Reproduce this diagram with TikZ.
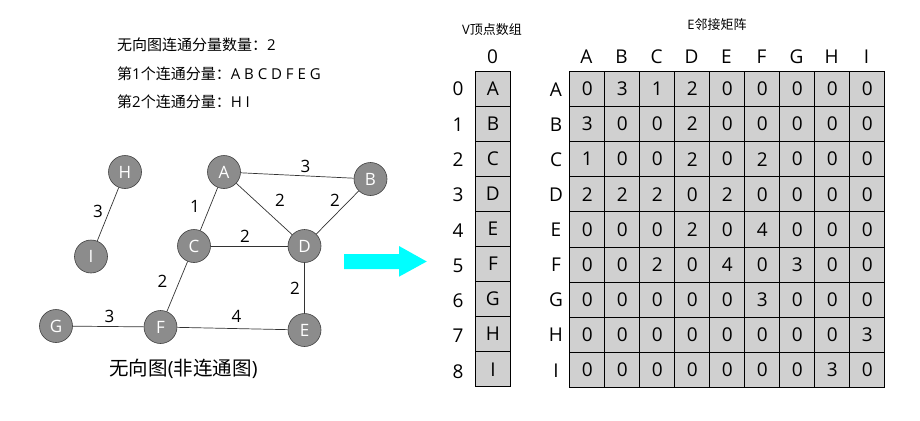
\documentclass[tikz,border=0pt]{standalone}
\usepackage{fontspec}
\setmainfont{Open Sans}
\newfontfamily\cjk{Noto Sans CJK SC}
\usetikzlibrary{calc}
\definecolor{nodegray}{HTML}{8C8C8C}
\definecolor{cellgray}{HTML}{D0D0D0}
\definecolor{arrowcyan}{HTML}{00FFFF}
\tikzset{
  vtx/.style={circle,draw=black!75,line width=0.6pt,fill=nodegray,minimum size=33pt,inner sep=0pt,text=white,font=\fontsize{17}{17}\selectfont},
  edge/.style={draw=black!80,line width=0.7pt},
  elab/.style={font=\fontsize{17}{17}\selectfont,inner sep=0pt},
  info/.style={font=\fontsize{15}{15}\selectfont,anchor=west,inner sep=0pt},
  cell/.style={draw=black,line width=0.8pt,fill=cellgray,minimum width=35pt,minimum height=35.1pt,inner sep=0pt,anchor=north west,font=\fontsize{19}{19}\selectfont},
  idx/.style={font=\fontsize{19}{19}\selectfont,inner sep=0pt},
  ttl/.style={font=\fontsize{13}{13}\selectfont,inner sep=0pt}
}
\begin{document}
\begin{tikzpicture}[x=1pt,y=-1pt]
\useasboundingbox (0,0) rectangle (920,420);
% info text
\node[info] (t1) at (117,45) {{\cjk 无向图连通分量数量：}2};
\node[info] (t2) at (117,73.5) {{\cjk 第}1{\cjk 个连通分量：}A B C D F E G};
\node[info] (t3) at (117,101.5) {{\cjk 第}2{\cjk 个连通分量：}H I};
% graph
\node[vtx] (H) at (125,172) {H};
\node[vtx] (A) at (224,172) {A};
\node[vtx] (B) at (370.5,179) {B};
\node[vtx] (I) at (91,256.5) {I};
\node[vtx] (C) at (194,246) {C};
\node[vtx] (D) at (304.5,246) {D};
\node[vtx] (G) at (56,326) {G};
\node[vtx] (F) at (160.5,327) {F};
\node[vtx] (E) at (304.5,330) {E};
\path[edge] (H) -- (I);
\path[edge] (A) -- (B);
\path[edge] (A) -- (C);
\path[edge] (A) -- (D);
\path[edge] (B) -- (D);
\path[edge] (C) -- (D);
\path[edge] (C) -- (F);
\path[edge] (D) -- (E);
\path[edge] (G) -- (F);
\path[edge] (F) -- (E);
\node[elab] (lHI) at (98,211.5) {3};
\node[elab] (lAB) at (305.5,166) {3};
\node[elab] (lAC) at (195,206.5) {1};
\node[elab] (lAD) at (280,200) {2};
\node[elab] (lBD) at (335,200) {2};
\node[elab] (lCD) at (245,236) {2};
\node[elab] (lCF) at (162.5,281.5) {2};
\node[elab] (lDE) at (295,288) {2};
\node[elab] (lGF) at (109.5,316) {3};
\node[elab] (lFE) at (236.5,316) {4};
\node[font=\fontsize{19.5}{19.5}\selectfont,inner sep=0pt] (cap) at (183.5,369) {{\cjk 无向图}({\cjk 非连通图})};
% arrow
\fill[arrowcyan] (344,254) -- (399,254) -- (399,246) -- (426.7,261.5) -- (399,276.7) -- (399,269) -- (344,269) -- cycle;
% vertex array
\node[ttl] (vt) at (492,30) {V{\cjk 顶点数组}};
\node[idx] (vh) at (492.5,57) {0};
\foreach \n [count=\i from 0] in {A,B,C,D,E,F,G,H,I} {
  \node[cell] (v\i) at (475,70.5+35.1*\i) {\n};
  \node[idx] (vi\i) at (458,89+35.3*\i) {\i};
}
% matrix
\node[ttl] (et) at (717,25) {E{\cjk 邻接矩阵}};
\foreach \n [count=\j from 0] in {A,B,C,D,E,F,G,H,I} {
  \node[idx] (ch\j) at (586.5+35*\j,57) {\n};
  \node[idx] (rh\j) at (556,89.5+35.1*\j) {\n};
}
\foreach \row [count=\i from 0] in {
  {0,3,1,2,0,0,0,0,0},
  {3,0,0,2,0,0,0,0,0},
  {1,0,0,2,0,2,0,0,0},
  {2,2,2,0,2,0,0,0,0},
  {0,0,0,2,0,4,0,0,0},
  {0,0,2,0,4,0,3,0,0},
  {0,0,0,0,0,3,0,0,0},
  {0,0,0,0,0,0,0,0,3},
  {0,0,0,0,0,0,0,3,0}} {
  \foreach \v [count=\j from 0] in \row {
    \node[cell] (m\i\j) at (569.3+35*\j,71+35.1*\i) {\v};
  }
}
\end{tikzpicture}
\end{document}
